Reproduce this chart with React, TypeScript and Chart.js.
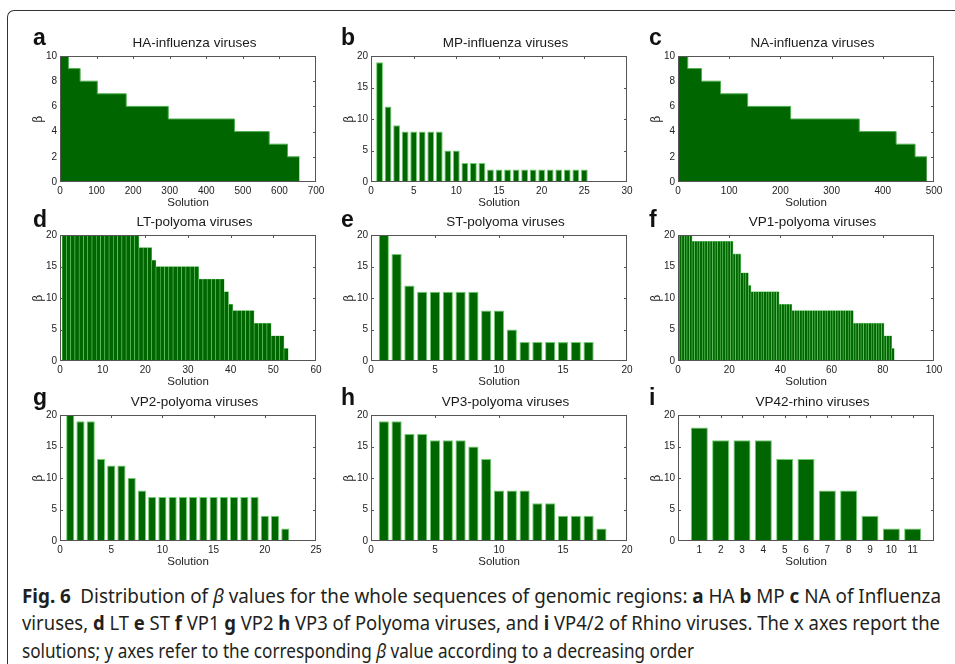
import React, { useEffect, useLayoutEffect, useRef } from "react";
import { Chart, registerables } from "chart.js";

Chart.register(...registerables);

// ---------------- data ----------------
// a: HA-influenza viruses (solution where each β level starts, β level, last solution)
const haStarts = [0, 23, 55, 102, 181, 296, 477, 572, 622];
const haBeta = [10, 9, 8, 7, 6, 5, 4, 3, 2];
const haLast = 655;

// b: MP-influenza viruses
const mpBeta = [19, 12, 9, 8, 8, 8, 8, 8, 5, 5, 3, 3, 3, 2, 2, 2, 2, 2, 2, 2, 2, 2, 2, 2, 2];

// c: NA-influenza viruses
const naStarts = [0, 19, 46, 83, 136, 220, 354, 426, 463];
const naBeta = [10, 9, 8, 7, 6, 5, 4, 3, 2];
const naLast = 486;

// d: LT-polyoma viruses
const ltBeta = [
  20, 20, 20, 20, 20, 20, 20, 20, 20, 20, 20, 20, 20, 20, 20, 20, 20, 20,
  18, 18, 18, 16,
  15, 15, 15, 15, 15, 15, 15, 15, 15, 15,
  13, 13, 13, 13, 13, 13,
  11, 9,
  8, 8, 8, 8, 8,
  6, 6, 6, 6,
  4, 4, 4,
  2,
];

// e: ST-polyoma viruses
const stBeta = [20, 17, 12, 11, 11, 11, 11, 11, 8, 8, 5, 3, 3, 3, 3, 3, 3];

// f: VP1-polyoma viruses
const vp1Beta = [
  20, 20, 20, 20, 20,
  19, 19, 19, 19, 19, 19, 19, 19, 19, 19, 19, 19, 19, 19, 19, 19,
  17, 17, 17,
  14, 14, 14,
  12,
  11, 11, 11, 11, 11, 11, 11, 11, 11, 11, 11,
  9, 9, 9, 9, 9,
  8, 8, 8, 8, 8, 8, 8, 8, 8, 8, 8, 8, 8, 8, 8, 8, 8, 8, 8, 8, 8, 8, 8, 8,
  6, 6, 6, 6, 6, 6, 6, 6, 6, 6, 6, 6,
  4, 4, 4,
  2,
];

// g: VP2-polyoma viruses
const vp2Beta = [20, 19, 19, 13, 12, 12, 10, 8, 7, 7, 7, 7, 7, 7, 7, 7, 7, 7, 7, 4, 4, 2];

// h: VP3-polyoma viruses
const vp3Beta = [19, 19, 17, 17, 16, 16, 16, 15, 13, 8, 8, 8, 6, 6, 4, 4, 4, 2];

// i: VP42-rhino viruses
const rhinoSolutions = [1, 2, 3, 4, 5, 6, 7, 8, 9, 10, 11];
const rhinoBeta = [18, 16, 16, 16, 13, 13, 8, 8, 4, 2, 2];

const letters = ["a", "b", "c", "d", "e", "f", "g", "h", "i"];
const titles = [
  "HA-influenza viruses",
  "MP-influenza viruses",
  "NA-influenza viruses",
  "LT-polyoma viruses",
  "ST-polyoma viruses",
  "VP1-polyoma viruses",
  "VP2-polyoma viruses",
  "VP3-polyoma viruses",
  "VP42-rhino viruses",
];
const xMaxes = [700, 30, 500, 60, 20, 100, 25, 20, 12];
const xSteps = [100, 5, 100, 10, 5, 20, 5, 5, 1];
const yMaxes = [10, 20, 10, 20, 20, 20, 20, 20, 20];
const ySteps = [2, 5, 2, 5, 5, 5, 5, 5, 5];

// ---------------- layout ----------------
const COL_LEFT = [60, 371, 678];
const ROW_TOP = [55, 234, 414];
const LETTER_LEFT = [33, 341, 649];
const LETTER_BASE = [45, 227, 405];
const PW = 256;
const PH = 127;
const YW = 45;
const PT = 8;
const PR = 12;
const XH = 30;
const CW = YW + PW + PR;
const CH = PT + PH + XH;

const DARK = "#006600";
const EDGE = "#6fcf6f";
const AXIS = "#555";
const FONT = "'Liberation Sans', Arial, Helvetica, sans-serif";

type PanelCfg = {
  kind: "step" | "bar";
  values: number[];
  starts?: number[];
  last?: number;
  solutions?: number[];
  dense?: boolean;
};

const panels: PanelCfg[] = [
  { kind: "step", values: haBeta, starts: haStarts, last: haLast },
  { kind: "bar", values: mpBeta },
  { kind: "step", values: naBeta, starts: naStarts, last: naLast },
  { kind: "bar", values: ltBeta, dense: true },
  { kind: "bar", values: stBeta },
  { kind: "bar", values: vp1Beta, dense: true },
  { kind: "bar", values: vp2Beta },
  { kind: "bar", values: vp3Beta },
  { kind: "bar", values: rhinoBeta, solutions: rhinoSolutions },
];

const framePlugin = {
  id: "matlabFrame",
  beforeDatasetsDraw(chart: any) {
    const { ctx, chartArea: a, scales } = chart;
    const xs = scales.x;
    const ys = scales.y;
    const L = 3;
    ctx.save();
    ctx.strokeStyle = AXIS;
    ctx.lineWidth = 1;
    ctx.beginPath();
    xs.ticks.forEach((t: any) => {
      const px = Math.round(xs.getPixelForValue(t.value)) + 0.5;
      if (px <= a.left + 1 || px >= a.right - 1) return;
      ctx.moveTo(px, a.bottom);
      ctx.lineTo(px, a.bottom - L);
      ctx.moveTo(px, a.top);
      ctx.lineTo(px, a.top + L);
    });
    ys.ticks.forEach((t: any) => {
      const py = Math.round(ys.getPixelForValue(t.value)) + 0.5;
      if (py <= a.top + 1 || py >= a.bottom - 1) return;
      ctx.moveTo(a.left, py);
      ctx.lineTo(a.left + L, py);
      ctx.moveTo(a.right, py);
      ctx.lineTo(a.right - L, py);
    });
    ctx.stroke();
    ctx.restore();
  },
  afterDatasetsDraw(chart: any) {
    const { ctx, chartArea: a } = chart;
    ctx.save();
    ctx.strokeStyle = AXIS;
    ctx.lineWidth = 1;
    ctx.strokeRect(a.left + 0.5, a.top + 0.5, a.right - a.left - 1, a.bottom - a.top - 1);
    ctx.restore();
  },
};

function Panel({ idx }: { idx: number }) {
  const ref = useRef<HTMLCanvasElement>(null);
  const cfg = panels[idx];
  const col = idx % 3;
  const row = Math.floor(idx / 3);
  const plotLeft = COL_LEFT[col];
  const plotTop = ROW_TOP[row];

  useEffect(() => {
    if (!ref.current) return;
    let dataset: any;
    let type: any;
    if (cfg.kind === "step") {
      const pts = (cfg.starts as number[]).map((s, k) => ({ x: s, y: cfg.values[k] }));
      pts.push({ x: cfg.last as number, y: cfg.values[cfg.values.length - 1] });
      type = "line";
      dataset = {
        data: pts,
        stepped: "before",
        fill: "origin",
        backgroundColor: DARK,
        borderColor: "#4fae4f",
        borderWidth: 1,
        pointRadius: 0,
      };
    } else {
      const xs = cfg.solutions ?? cfg.values.map((_, k) => k + 1);
      type = "bar";
      dataset = {
        data: cfg.values.map((v, k) => ({ x: xs[k], y: v })),
        backgroundColor: DARK,
        borderColor: EDGE,
        borderWidth: cfg.dense ? 0.6 : 1,
        categoryPercentage: 1,
        barPercentage: cfg.dense ? 1 : 0.8,
      };
    }

    const chart = new Chart(ref.current, {
      type,
      data: { datasets: [dataset] },
      plugins: [framePlugin],
      options: {
        animation: false,
        responsive: false,
        maintainAspectRatio: false,
        layout: { padding: { left: 0, top: PT, right: PR, bottom: 0 } },
        plugins: {
          legend: { display: false },
          tooltip: { enabled: false },
          title: { display: false },
        },
        scales: {
          x: {
            type: "linear",
            min: 0,
            max: xMaxes[idx],
            offset: false,
            grid: { display: false, offset: false, drawTicks: false, tickLength: 0 },
            border: { display: false },
            afterFit: (s: any) => {
              s.height = XH;
            },
            afterBuildTicks: cfg.solutions
              ? (s: any) => {
                  s.ticks = (cfg.solutions as number[]).map((v) => ({ value: v }));
                }
              : undefined,
            ticks: {
              stepSize: xSteps[idx],
              autoSkip: false,
              maxRotation: 0,
              padding: 3,
              color: "#222",
              font: { size: 10, family: FONT },
            },
            title: {
              display: true,
              text: "Solution",
              color: "#222",
              font: { size: 11.5, family: FONT },
              padding: { top: 0, bottom: 2.6 },
            },
          },
          y: {
            type: "linear",
            min: 0,
            max: yMaxes[idx],
            grid: { display: false, drawTicks: false, tickLength: 0 },
            border: { display: false },
            afterFit: (s: any) => {
              s.width = YW;
            },
            ticks: {
              stepSize: ySteps[idx],
              padding: 3,
              color: "#222",
              font: { size: 10, family: FONT },
            },
            title: {
              display: true,
              text: "β",
              color: "#222",
              font: { size: 12, family: "'DejaVu Serif', 'Liberation Serif', serif" },
              padding: { top: 16.3, bottom: 0 },
            },
          },
        },
      } as any,
    });
    return () => chart.destroy();
  }, []);

  return (
    <>
      <canvas
        ref={ref}
        width={CW}
        height={CH}
        style={{ position: "absolute", left: plotLeft - YW, top: plotTop - PT, width: CW, height: CH }}
      />
      <div
        style={{
          position: "absolute",
          left: LETTER_LEFT[col],
          top: LETTER_BASE[row] - 19.5,
          fontFamily: FONT,
          fontWeight: 700,
          fontSize: 23,
          lineHeight: "23px",
          color: "#111",
        }}
      >
        {letters[idx]}
      </div>
      <div
        style={{
          position: "absolute",
          left: plotLeft + PW / 2 + 6.5 - 150,
          width: 300,
          textAlign: "center",
          top: plotTop - 8 - 11.4,
          fontFamily: FONT,
          fontSize: 13.5,
          lineHeight: "13.5px",
          color: "#1a1a1a",
          whiteSpace: "nowrap",
        }}
      >
        {titles[idx]}
      </div>
    </>
  );
}

const CAPTION_TARGETS = [919, 918, 672];
const CAPTION_BASELINES = [603, 630.5, 658];

export default function App() {
  const lineRefs = useRef<(HTMLDivElement | null)[]>([]);

  useLayoutEffect(() => {
    lineRefs.current.forEach((el, k) => {
      if (!el) return;
      el.style.transform = "none";
      const w = el.getBoundingClientRect().width;
      if (w > 0) el.style.transform = `scaleX(${CAPTION_TARGETS[k] / w})`;
    });
  }, []);

  const capStyle = (k: number): React.CSSProperties => ({
    position: "absolute",
    left: 22,
    top: CAPTION_BASELINES[k] - 17.5,
    fontFamily: "'Liberation Sans Narrow', 'Noto Sans', 'Open Sans', sans-serif",
    fontSize: 20,
    lineHeight: "20px",
    whiteSpace: "nowrap",
    color: "#231f20",
    transformOrigin: "0 0",
    display: "inline-block",
  });

  return (
    <div
      style={{
        position: "absolute",
        left: 0,
        top: 0,
        width: 955,
        height: 664,
        overflow: "hidden",
        background: "#fff",
      }}
    >
      <div
        style={{
          position: "absolute",
          left: 7,
          top: 10,
          width: 1000,
          height: 700,
          borderLeft: "1.5px solid #333",
          borderTop: "1.5px solid #333",
          borderTopLeftRadius: 7,
        }}
      />
      {panels.map((_, i) => (
        <Panel key={i} idx={i} />
      ))}
      <div ref={(el) => { lineRefs.current[0] = el; }} style={capStyle(0)}>
        <b>Fig. 6</b>
        {"\u2002"}Distribution of <i>β</i> values for the whole sequences of genomic regions: <b>a</b> HA <b>b</b> MP{" "}
        <b>c</b> NA of Influenza
      </div>
      <div ref={(el) => { lineRefs.current[1] = el; }} style={capStyle(1)}>
        viruses, <b>d</b> LT <b>e</b> ST <b>f</b> VP1 <b>g</b> VP2 <b>h</b> VP3 of Polyoma viruses, and <b>i</b> VP4/2 of
        Rhino viruses. The x axes report the
      </div>
      <div ref={(el) => { lineRefs.current[2] = el; }} style={capStyle(2)}>
        solutions; y axes refer to the corresponding <i>β</i> value according to a decreasing order
      </div>
    </div>
  );
}
